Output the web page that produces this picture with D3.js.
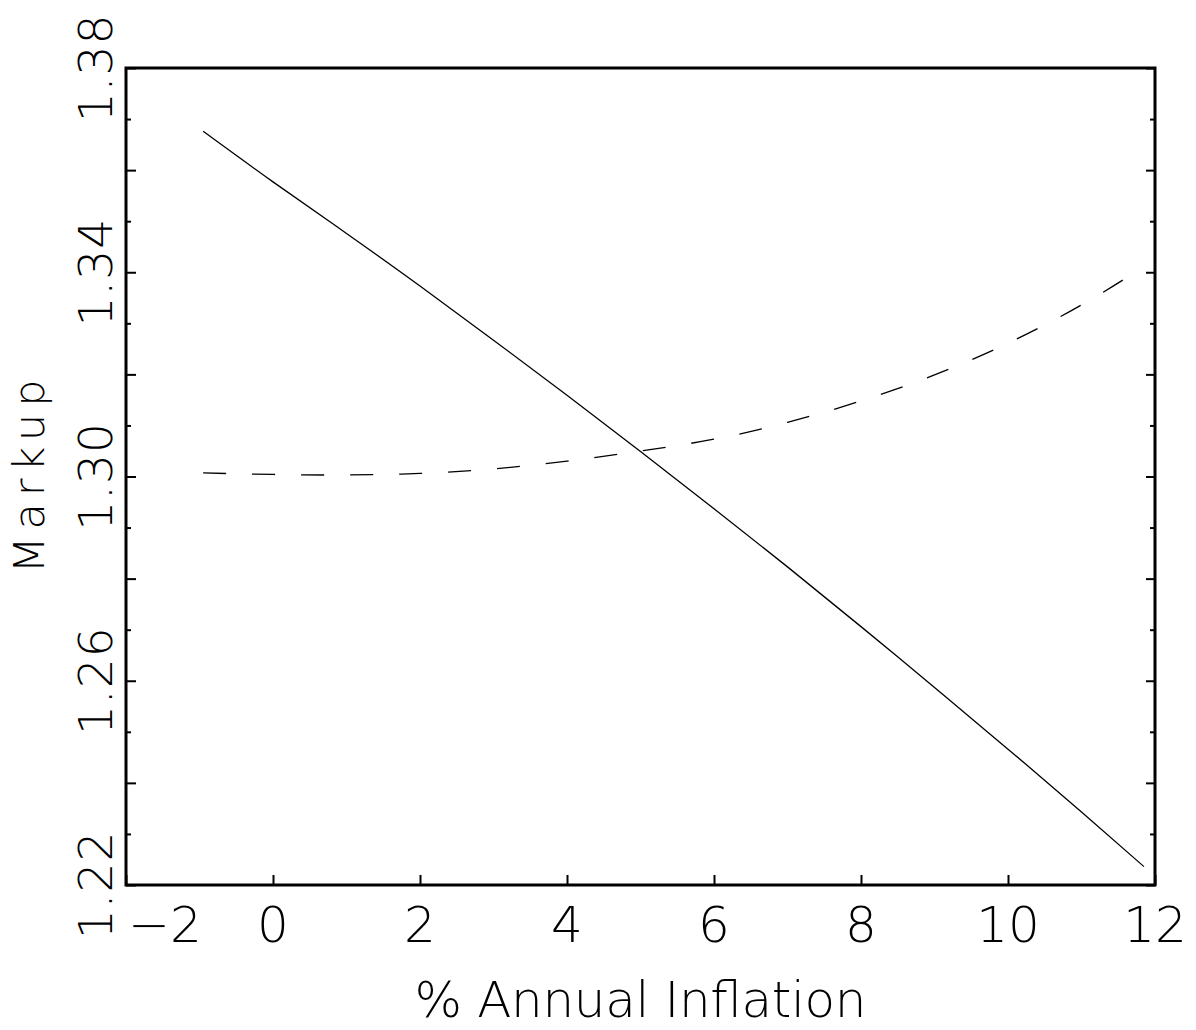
<!DOCTYPE html>
<html>
<head>
<meta charset="utf-8">
<script src="https://cdn.jsdelivr.net/npm/d3@7"></script>
<style>
  html, body { margin: 0; padding: 0; background: #fff; }
  text { font-family: "DejaVu Sans", sans-serif; font-weight: 200; fill: #000; }
</style>
</head>
<body>
<svg id="chart" width="1196" height="1030"></svg>
<script>
// Inflation rate (%) at which each markup is evaluated
const inflation = [-0.95, 0, 1, 2, 3, 4, 5, 6, 7, 8, 9, 10, 11, 11.85];
// Markup curves
const markupSolid  = [1.3676, 1.3577, 1.3476, 1.3373, 1.3267, 1.3159, 1.3049, 1.2937, 1.2823, 1.2706, 1.2587, 1.2466, 1.2343, 1.2236];
const markupDashed = [1.3007, 1.3004, 1.3003, 1.3006, 1.3015, 1.3030, 1.3050, 1.3073, 1.3106, 1.3148, 1.3199, 1.3261, 1.3336, 1.3411];

// Axis ticks and labels
const xTicks = [-2, 0, 2, 4, 6, 8, 10, 12];
const yMajorTicks = [1.22, 1.24, 1.26, 1.28, 1.30, 1.32, 1.34, 1.36, 1.38];
const yMinorTicks = [1.23, 1.25, 1.27, 1.29, 1.31, 1.33, 1.35, 1.37];
const yLabelTicks = [1.22, 1.26, 1.30, 1.34, 1.38];
const xTitle = "% Annual Inflation";
const yTitle = "Markup";

const plotL = 126, plotR = 1155, plotT = 68, plotB = 885;

const svg = d3.select("#chart");
const x = d3.scaleLinear().domain([-2, 12]).range([plotL, plotR]);
const y = d3.scaleLinear().domain([1.22, 1.38]).range([plotB, plotT]);

// Ticks drawn inward on the frame
function tickGroup(axis, tx, ty) {
  const g = svg.append("g").attr("transform", `translate(${tx},${ty})`).call(axis);
  g.select(".domain").remove();
  g.selectAll("text").remove();
  g.selectAll("line").attr("stroke", "#000").attr("stroke-width", 2);
  return g;
}
tickGroup(d3.axisBottom(x).tickValues(xTicks).tickSize(-10), 0, plotB);
tickGroup(d3.axisLeft(y).tickValues(yMajorTicks).tickSize(-10), plotL, 0);
tickGroup(d3.axisLeft(y).tickValues(yMinorTicks).tickSize(-5), plotL, 0);
tickGroup(d3.axisRight(y).tickValues(yMajorTicks).tickSize(-9), plotR, 0);
tickGroup(d3.axisRight(y).tickValues(yMinorTicks).tickSize(-5), plotR, 0);

// Plot frame
svg.append("rect")
  .attr("x", plotL).attr("y", plotT)
  .attr("width", plotR - plotL).attr("height", plotB - plotT)
  .attr("fill", "none").attr("stroke", "#000").attr("stroke-width", 3);

// Curves
const pts = (vals) => inflation.map((v, i) => [v, vals[i]]);
const line = d3.line().x(d => x(d[0])).y(d => y(d[1])).curve(d3.curveNatural);

svg.append("path")
  .datum(pts(markupSolid))
  .attr("d", line)
  .attr("fill", "none").attr("stroke", "#000").attr("stroke-width", 1.3);

svg.append("path")
  .datum(pts(markupDashed))
  .attr("d", line)
  .attr("fill", "none").attr("stroke", "#000").attr("stroke-width", 1.3)
  .attr("stroke-dasharray", "23,26");

// X tick labels
const fmtX = d3.format("d");
svg.append("g").selectAll("text")
  .data(xTicks).join("text")
  .attr("x", d => x(d) + (d === -2 ? 39 : 0))
  .attr("y", 942)
  .attr("text-anchor", "middle")
  .attr("font-size", 50)
  .text(d => fmtX(d));

// Y tick labels, rotated
const fmtY = d3.format(".2f");
svg.append("g").selectAll("text")
  .data(yLabelTicks).join("text")
  .attr("transform", d => `translate(112,${y(d)}) rotate(-90)`)
  .attr("text-anchor", "middle")
  .attr("font-size", 47)
  .attr("letter-spacing", 1)
  .text(d => fmtY(d));

// Axis titles
svg.append("text")
  .attr("x", (plotL + plotR) / 2).attr("y", 1017)
  .attr("text-anchor", "middle")
  .attr("font-size", 50)
  .attr("textLength", 452).attr("lengthAdjust", "spacing")
  .text(xTitle);

svg.append("text")
  .attr("transform", `translate(44,${(plotT + plotB) / 2}) rotate(-90)`)
  .attr("text-anchor", "middle")
  .attr("font-size", 43)
  .attr("textLength", 194).attr("lengthAdjust", "spacing")
  .text(yTitle);
</script>
</body>
</html>
